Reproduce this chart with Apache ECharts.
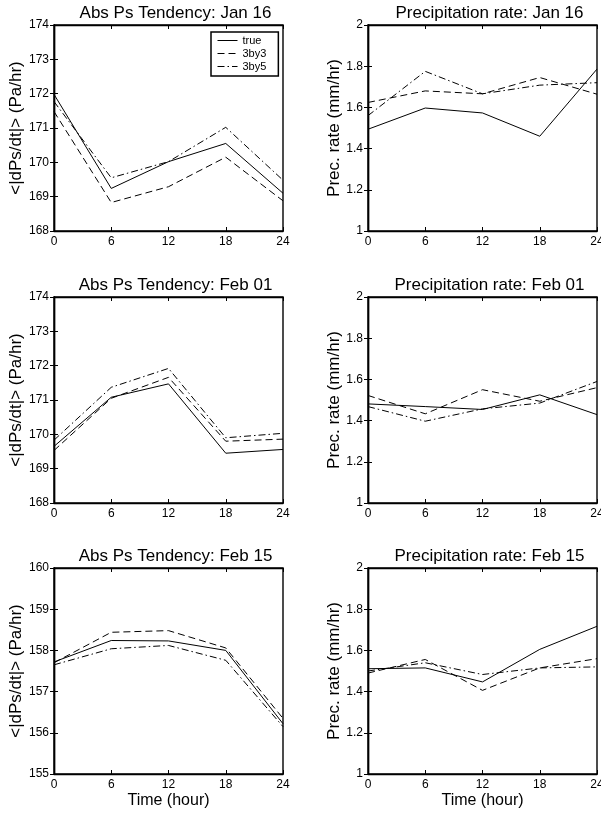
<!DOCTYPE html>
<html>
<head>
<meta charset="utf-8">
<script src="https://cdn.jsdelivr.net/npm/echarts@6/dist/echarts.min.js"></script>
<style>
html, body { margin: 0; padding: 0; background: #fff; }
#chart { width: 601px; height: 817px; }
</style>
</head>
<body>
<div id="chart"></div>
<script>
// data
const hours = [0, 6, 12, 18, 24]
const seriesNames = ['true', '3by3', '3by5']

const psJan16True = [171.98, 169.24, 170.02, 170.55, 169.1]
const psJan16By3 = [171.48, 168.83, 169.29, 170.15, 168.88]
const psJan16By5 = [171.77, 169.55, 170.02, 171.02, 169.48]

const prJan16True = [1.494, 1.597, 1.573, 1.46, 1.786]
const prJan16By3 = [1.624, 1.68, 1.666, 1.745, 1.664]
const prJan16By5 = [1.56, 1.775, 1.666, 1.708, 1.72]

const psFeb01True = [169.65, 171.08, 171.47, 169.45, 169.56]
const psFeb01By3 = [169.53, 171.05, 171.66, 169.8, 169.86]
const psFeb01By5 = [169.83, 171.37, 171.92, 169.9, 170.03]

const prFeb01True = [1.481, 1.468, 1.454, 1.525, 1.429]
const prFeb01By3 = [1.522, 1.433, 1.55, 1.494, 1.56]
const prFeb01By5 = [1.468, 1.397, 1.457, 1.485, 1.59]

const psFeb15True = [157.72, 158.24, 158.23, 158.0, 156.22]
const psFeb15By3 = [157.7, 158.44, 158.48, 158.06, 156.35]
const psFeb15By5 = [157.65, 158.04, 158.12, 157.76, 156.15]

const prFeb15True = [1.511, 1.515, 1.447, 1.605, 1.717]
const prFeb15By3 = [1.49, 1.556, 1.406, 1.515, 1.56]
const prFeb15By5 = [1.5, 1.54, 1.483, 1.515, 1.52]

const FONT = 'Liberation Sans, Arial, sans-serif'
const psName = '<|dPs/dt|> (Pa/hr)'
const prName = 'Prec. rate (mm/hr)'
const lineTypes = ['solid', [7, 4], [7, 3, 1.5, 3]]

const panels = [
  { title: 'Abs Ps Tendency: Jan 16', yName: psName, min: 168, max: 174, step: 1, lines: [psJan16True, psJan16By3, psJan16By5], left: 54, top: 25 },
  { title: 'Precipitation rate: Jan 16', yName: prName, min: 1, max: 2, step: 0.2, lines: [prJan16True, prJan16By3, prJan16By5], left: 368, top: 25 },
  { title: 'Abs Ps Tendency: Feb 01', yName: psName, min: 168, max: 174, step: 1, lines: [psFeb01True, psFeb01By3, psFeb01By5], left: 54, top: 297 },
  { title: 'Precipitation rate: Feb 01', yName: prName, min: 1, max: 2, step: 0.2, lines: [prFeb01True, prFeb01By3, prFeb01By5], left: 368, top: 297 },
  { title: 'Abs Ps Tendency: Feb 15', yName: psName, min: 155, max: 160, step: 1, lines: [psFeb15True, psFeb15By3, psFeb15By5], left: 54, top: 568, bottom: true },
  { title: 'Precipitation rate: Feb 15', yName: prName, min: 1, max: 2, step: 0.2, lines: [prFeb15True, prFeb15By3, prFeb15By5], left: 368, top: 568, bottom: true },
]

const W = 229
const H = 206
const black = '#000'
const axisLine = { show: true, lineStyle: { color: black, width: 1.4 } }
const tick = { show: true, inside: true, length: 4, lineStyle: { color: black, width: 1 } }

const grid = []
const title = []
const xAxis = []
const yAxis = []
const series = []

panels.forEach((p, i) => {
  grid.push({
    left: p.left, top: p.top, width: W, height: H,
    outerBoundsMode: 'none',
    show: true, borderColor: black, borderWidth: 1.4, backgroundColor: 'transparent',
  })
  title.push({
    text: p.title,
    left: p.left + W / 2 + 2,
    top: p.top - 25,
    textAlign: 'center',
    textStyle: { fontFamily: FONT, fontSize: 17, fontWeight: 'normal', color: black },
  })
  xAxis.push({
    gridIndex: i, type: 'value', min: 0, max: 24, interval: 6,
    axisLine,
    axisTick: tick,
    axisLabel: { color: black, fontFamily: FONT, fontSize: 12, margin: 5 },
    splitLine: { show: false },
    name: p.bottom ? 'Time (hour)' : '',
    nameLocation: 'middle',
    nameGap: 19,
    nameTextStyle: { fontFamily: FONT, fontSize: 16, color: black },
  })
  xAxis.push({
    gridIndex: i, type: 'value', min: 0, max: 24, interval: 6, position: 'top',
    axisLine, axisTick: tick, axisLabel: { show: false }, splitLine: { show: false },
  })
  yAxis.push({
    gridIndex: i, type: 'value', min: p.min, max: p.max, interval: p.step,
    axisLine,
    axisTick: tick,
    axisLabel: { color: black, fontFamily: FONT, fontSize: 12, margin: 5 },
    splitLine: { show: false },
    name: p.yName,
    nameLocation: 'middle',
    nameGap: 21,
    nameTextStyle: { fontFamily: FONT, fontSize: 17, color: black },
  })
  yAxis.push({
    gridIndex: i, type: 'value', min: p.min, max: p.max, interval: p.step, position: 'right',
    axisLine, axisTick: tick, axisLabel: { show: false }, splitLine: { show: false },
  })
  p.lines.forEach((vals, k) => {
    series.push({
      name: seriesNames[k],
      type: 'line',
      xAxisIndex: 2 * i,
      yAxisIndex: 2 * i,
      symbol: 'none',
      silent: true,
      lineStyle: { color: black, width: 1, type: lineTypes[k] },
      itemStyle: { color: black },
      data: hours.map((h, j) => [h, vals[j]]),
    })
  })
})

const chart = echarts.init(document.getElementById('chart'))
chart.setOption({
  animation: false,
  backgroundColor: '#fff',
  title,
  grid,
  xAxis,
  yAxis,
  series,
  legend: {
    data: seriesNames.map((n, k) => ({
      name: n,
      itemStyle: { opacity: 0 },
      lineStyle: { color: black, width: 1, type: lineTypes[k] },
    })),
    orient: 'vertical',
    left: 211,
    top: 32,
    align: 'left',
    selectedMode: false,
    itemWidth: 20,
    itemHeight: 9,
    itemGap: 2,
    padding: [3, 12, 4, 6],
    borderColor: black,
    borderWidth: 1.5,
    borderRadius: 0,
    backgroundColor: '#fff',
    textStyle: { fontFamily: FONT, fontSize: 11, color: black },
  },
})
</script>
</body>
</html>
